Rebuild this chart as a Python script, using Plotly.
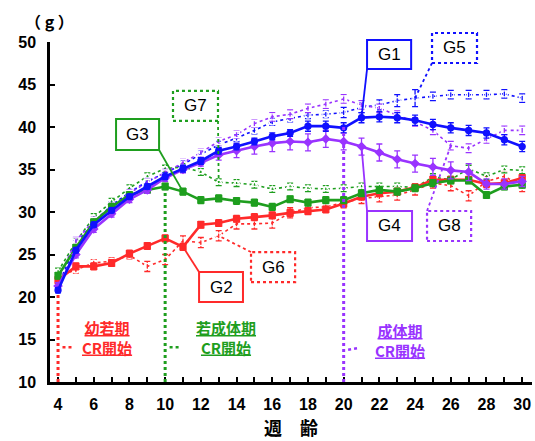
import plotly.graph_objects as go

weeks = list(range(4, 31))

g1 = [20.8, 25.5, 28.5, 30.2, 31.8, 33.0, 34.2, 35.1, 36.0, 37.2, 37.7, 38.3, 38.9, 39.3, 40.1, 40.1, 39.9,
      41.1, 41.2, 41.1, 40.8, 40.3, 39.9, 39.6, 39.3, 38.5, 37.7]
g2 = [22.0, 23.6, 23.6, 24.0, 25.1, 26.0, 26.9, 25.9, 28.5, 28.7, 29.2, 29.4, 29.6, 29.9, 30.1, 30.3, 31.0,
      31.8, 32.2, 32.4, 32.9, 33.8, 33.8, 33.8, 33.3, 33.4, 34.0]
g3 = [22.5, 25.8, 28.8, 30.6, 32.0, 32.6, 33.0, 32.4, 31.4, 31.6, 31.3, 31.1, 30.6, 31.5, 31.1, 31.4, 31.4,
      32.2, 32.6, 32.4, 32.8, 33.4, 33.7, 33.7, 32.0, 33.0, 33.2]
g4 = [21.3, 25.0, 28.0, 29.8, 31.5, 32.6, 34.0, 35.0, 35.8, 36.7, 37.2, 37.7, 38.1, 38.3, 38.2, 38.6, 38.3,
      37.7, 37.0, 36.2, 35.7, 35.3, 34.9, 34.7, 33.3, 33.3, 33.6]
g5 = [21.3, 26.2, 28.8, 30.8, 32.3, 33.6, 34.6, 35.6, 36.8, 37.9, 38.7, 39.6, 40.6, 41.0, 41.4, 41.5, 41.7,
      42.3, 42.6, 43.1, 43.4, 43.6, 43.8, 43.8, 43.8, 43.9, 43.4]
g6 = [22.4, 23.2, 24.0, 24.2, 24.9, 23.6, 24.4, 26.6, 26.4, 27.2, 28.6, 28.6, 28.7, 29.9, 30.5, 30.6, 31.1,
      31.6, 31.8, 32.0, 32.6, 33.4, 33.1, 31.9, 33.6, 34.2, 33.0]
g7 = [23.0, 26.5, 29.4, 31.2, 32.8, 34.2, 35.1, 35.3, 34.7, 33.5, 33.4, 33.2, 32.7, 33.0, 32.8, 32.7, 32.8,
      33.0, 33.0, 33.0, 32.9, 34.1, 33.8, 35.1, 34.2, 35.0, 34.9]
g8 = [22.0, 26.6, 29.0, 30.6, 32.2, 33.5, 34.6, 35.8, 37.0, 38.3, 39.1, 40.4, 41.2, 41.5, 42.2, 42.7, 43.3,
      42.6, 42.2, 41.4, 40.6, 39.6, 37.8, 37.5, 38.6, 39.6, 39.6]

e1 = [0.3] * 6 + [0.4] * 8 + [0.6] * 13
e2 = [0.4] * 27
e3 = [0.4] * 27
e4 = [0.4] * 9 + [0.6, 0.8, 0.9] + [1.0] * 12 + [0.6] * 3
e5 = [0.4] * 16 + [0.6, 0.6, 0.6, 0.7, 1.0] + [0.5] * 6
e6 = [0.4] * 5 + [0.6] * 22
e7 = [0.4] * 27
e8 = [0.4] * 12 + [0.5] * 15

x_ticks = weeks
x_ticktext = [str(w) if w % 2 == 0 else "" for w in weeks]
y_ticks = [10, 15, 20, 25, 30, 35, 40, 45, 50]

RED = "#FF2A2A"
GREEN = "#1E9E1E"
BLUE = "#1010FF"
PURPLE = "#9933FF"

series = [
    ("G5", g5, e5, BLUE, "dot", "circle-open", 1.6),
    ("G6", g6, e6, RED, "dot", "circle-open", 1.6),
    ("G7", g7, e7, GREEN, "dot", "triangle-up-open", 1.6),
    ("G8", g8, e8, PURPLE, "dot", "square-open", 1.6),
    ("G2", g2, e2, RED, "solid", "square", 2.6),
    ("G3", g3, e3, GREEN, "solid", "square", 2.6),
    ("G4", g4, e4, PURPLE, "solid", "diamond", 2.6),
    ("G1", g1, e1, BLUE, "solid", "circle", 2.6),
]
data = {"G1": g1, "G2": g2, "G3": g3, "G4": g4, "G5": g5, "G6": g6, "G7": g7, "G8": g8}

fig = go.Figure()
for name, ys, es, col, dash, sym, lw in series:
    fig.add_trace(go.Scatter(
        x=weeks, y=ys, mode="lines+markers", name=name,
        line=dict(color=col, width=lw, dash=dash),
        marker=dict(symbol=sym, size=6, color=col if "open" not in sym else "white",
                    line=dict(color=col, width=1.3)),
        error_y=dict(type="data", array=es, color=col, thickness=1.3, width=3),
        showlegend=False, cliponaxis=False,
    ))

X0, X1, Y0, Y1 = 3.55, 30.55, 10, 50


def px(x):
    return (x - X0) / (X1 - X0)


def py(y):
    return (y - Y0) / (Y1 - Y0)


def val(name, w):
    return data[name][weeks.index(w)]


shapes = []
annotations = []


def line(x0, y0, x1, y1, col, dash, w):
    shapes.append(dict(type="line", xref="paper", yref="paper", x0=px(x0), y0=py(y0), x1=px(x1), y1=py(y1),
                       line=dict(color=col, width=w, dash=dash)))


# labelled boxes: name, x0, x1, y0(bottom), y1(top), colour, dash, leader start, leader week
boxes = [
    ("G1", 21.31, 23.78, 46.82, 50.24, BLUE, "solid", (21.31, 46.82), 21),
    ("G5", 24.95, 27.47, 47.53, 51.06, BLUE, "dot", (24.95, 47.53), 24),
    ("G3", 7.25, 9.66, 37.29, 40.94, GREEN, "solid", (9.66, 37.29), 11),
    ("G7", 10.44, 12.96, 40.71, 44.24, GREEN, "dot", (12.96, 40.71), 13),
    ("G2", 11.90, 14.36, 19.41, 22.94, RED, "solid", (11.90, 22.94), 11),
    ("G6", 14.81, 17.28, 21.76, 25.29, RED, "dot", (14.81, 25.29), 13),
    ("G4", 21.31, 23.83, 26.59, 30.12, PURPLE, "solid", (21.31, 30.12), 21),
    ("G8", 24.67, 27.14, 26.59, 30.12, PURPLE, "dot", (24.67, 30.12), 26),
]
for name, bx0, bx1, by0, by1, col, dash, (lx, ly), lw_ in boxes:
    w = 2 if dash == "solid" else 2.2
    line(lx, ly, lw_, val(name, lw_), col, dash, 1.8)
    shapes.append(dict(type="rect", xref="paper", yref="paper", x0=px(bx0), x1=px(bx1), y0=py(by0), y1=py(by1),
                       line=dict(color=col, width=w, dash=dash), fillcolor="white", layer="above"))
    annotations.append(dict(xref="paper", yref="paper", x=px((bx0 + bx1) / 2), y=py((by0 + by1) / 2),
                            text=name, showarrow=False, xanchor="center", yanchor="middle",
                            font=dict(family="Liberation Sans, Arial", size=17, color="black")))

# CR start vertical dotted lines
line(4, 10, 4, 20.6, RED, "dot", 3)
line(10, 10, 10, val("G3", 10), GREEN, "dot", 3)
line(20, 10, 20, 40.0, PURPLE, "dot", 3)
line(4.25, 14.1, 4.85, 14.1, RED, "dot", 2.5)
line(10.25, 14.1, 10.85, 14.1, GREEN, "dot", 2.5)
line(20.25, 13.8, 20.85, 14.0, PURPLE, "dot", 2.5)

cjk = "Noto Sans CJK JP"
phase_labels = [
    ("幼若期", "CR開始", 6.77, 15.2, RED),
    ("若成体期", "CR開始", 13.42, 15.2, GREEN),
    ("成体期", "CR開始", 23.16, 14.9, PURPLE),
]
for t1, t2, x, y, col in phase_labels:
    annotations.append(dict(xref="paper", yref="paper", x=px(x), y=py(y),
                            text="<u>" + t1 + "</u><br><u>" + t2 + "</u>",
                            showarrow=False, xanchor="center", yanchor="middle", align="center",
                            font=dict(family=cjk, size=15, color=col, weight="bold")))

annotations.append(dict(xref="paper", yref="paper", x=(291 - 50) / 482, y=(382 - 427) / 340, text="週　齢",
                        showarrow=False, xanchor="center", yanchor="middle",
                        font=dict(family=cjk, size=18, color="black", weight="bold")))
annotations.append(dict(xref="paper", yref="paper", x=(49 - 50) / 482, y=(382 - 21) / 340, text="（ g ）",
                        showarrow=False, xanchor="center", yanchor="middle",
                        font=dict(family=cjk, size=16, color="black", weight="bold")))

fig.update_layout(
    width=535, height=441,
    margin=dict(l=50, r=3, t=42, b=59),
    paper_bgcolor="white", plot_bgcolor="white",
    shapes=shapes, annotations=annotations,
    xaxis=dict(range=[X0, X1], tickvals=x_ticks, ticktext=x_ticktext, ticks="inside", ticklen=5,
               tickwidth=1.5, tickcolor="black", showline=True, linecolor="black", linewidth=2.5,
               showgrid=False, zeroline=False, ticklabelstandoff=6,
               tickfont=dict(family="Liberation Sans, Arial", size=16, color="black", weight="bold")),
    yaxis=dict(range=[Y0, Y1], tickvals=y_ticks, ticks="inside", ticklen=5, tickwidth=1.5, tickcolor="black",
               showline=True, linecolor="black", linewidth=2.5, showgrid=False, zeroline=False,
               ticklabelstandoff=8,
               tickfont=dict(family="Liberation Sans, Arial", size=16, color="black", weight="bold")),
)

fig.write_html("out.html", config={"displayModeBar": False},
               post_script="document.body.style.margin='0px';document.body.style.overflow='hidden';")
